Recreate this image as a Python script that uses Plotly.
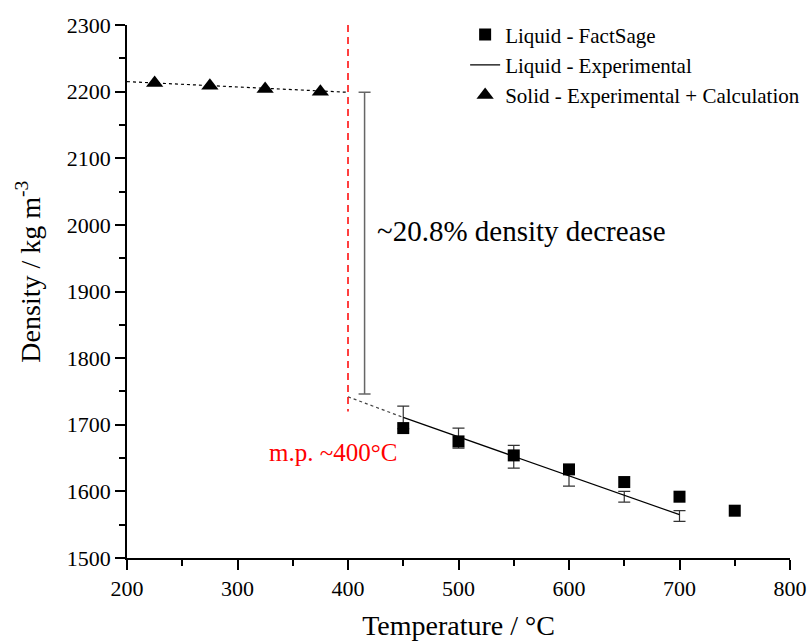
import plotly.graph_objects as go

# ---- data ----
fact_T = [450, 500, 550, 600, 650, 700, 750]
fact_rho = [1695, 1675, 1654, 1633, 1614, 1592, 1571]

exp_T = [450, 500, 550, 600, 650, 700]
exp_rho = [1711, 1680, 1652, 1623, 1592, 1563]
exp_err = [17, 15, 17, 15, 8, 8]

solid_T = [225, 275, 325, 375]
solid_rho = [2213, 2209, 2204, 2200]

solid_fit_T = [200, 400]
solid_fit_rho = [2215, 2199]

liq_extrap_T = [400, 450]
liq_extrap_rho = [1742, 1711]

liq_line_T = [450, 700]
liq_line_rho = [1711, 1565]

drop_T = [415]
drop_rho = [1972.5]
drop_err = [226.5]

mp_T = [400, 400]
mp_rho = [2300, 1720]

FONT = "Liberation Serif, serif"

fig = go.Figure()

# dotted fit lines
fig.add_trace(go.Scatter(x=solid_fit_T, y=solid_fit_rho, mode="lines",
                         line=dict(color="black", width=1.2, dash="dot"),
                         showlegend=False, hoverinfo="skip"))
fig.add_trace(go.Scatter(x=liq_extrap_T, y=liq_extrap_rho, mode="lines",
                         line=dict(color="#444444", width=1.2, dash="dot"),
                         showlegend=False, hoverinfo="skip"))
# melting point dashed line
fig.add_trace(go.Scatter(x=mp_T, y=mp_rho, mode="lines",
                         line=dict(color="red", width=1.5, dash="7px,5px"),
                         showlegend=False, hoverinfo="skip"))
# density drop bar
fig.add_trace(go.Scatter(x=drop_T, y=drop_rho, mode="markers",
                         marker=dict(size=1, color="rgba(0,0,0,0)"),
                         error_y=dict(type="data", array=drop_err, color="#666666",
                                      thickness=1.5, width=6),
                         showlegend=False, hoverinfo="skip"))
# experimental error bars
fig.add_trace(go.Scatter(x=exp_T, y=exp_rho, mode="markers",
                         marker=dict(size=1, color="rgba(0,0,0,0)"),
                         error_y=dict(type="data", array=exp_err, color="#333333",
                                      thickness=1.2, width=6),
                         showlegend=False, hoverinfo="skip"))

fig.add_trace(go.Scatter(x=fact_T, y=fact_rho, mode="markers", name="Liquid - FactSage",
                         marker=dict(symbol="square", size=12, color="black")))
fig.add_trace(go.Scatter(x=liq_line_T, y=liq_line_rho, mode="lines", name="Liquid - Experimental",
                         line=dict(color="black", width=1.2)))
fig.add_trace(go.Scatter(x=solid_T, y=solid_rho, mode="markers",
                         name="Solid - Experimental + Calculation",
                         marker=dict(symbol="triangle-up", size=15, color="black")))

fig.add_annotation(x=424, y=1991, xref="x", yref="y", xanchor="left", yanchor="middle",
                   text="~20.8% density decrease", showarrow=False,
                   font=dict(family=FONT, size=29, color="black"))
fig.add_annotation(x=386, y=1659, xref="x", yref="y", xanchor="center", yanchor="middle",
                   text="m.p. ~400°C", showarrow=False,
                   font=dict(family=FONT, size=25, color="red"))
# y axis title
fig.add_annotation(x=-0.148, y=0.537, xref="paper", yref="paper", xanchor="center",
                   yanchor="middle", textangle=-90, showarrow=False,
                   text="Density / kg m<sup>-3</sup>",
                   font=dict(family=FONT, size=28, color="black"))

axis_common = dict(showline=True, linecolor="black", linewidth=1.5, mirror=False,
                   showgrid=False, zeroline=False, ticks="outside", ticklen=10,
                   tickwidth=1.5, tickcolor="black", automargin=False,
                   ticklabeloverflow="allow",
                   tickfont=dict(family=FONT, size=22, color="black"))

fig.update_xaxes(range=[200, 800], dtick=100, tick0=200,
                 minor=dict(ticks="outside", dtick=50, ticklen=6, tickwidth=1.5, tickcolor="black"),
                 title=dict(text="Temperature / °C", font=dict(family=FONT, size=28, color="black"),
                            standoff=16),
                 **axis_common)
fig.update_yaxes(range=[1500, 2300], dtick=100, tick0=1500,
                 minor=dict(ticks="outside", dtick=50, ticklen=6, tickwidth=1.5, tickcolor="black"),
                 **axis_common)

fig.update_layout(
    width=807, height=641,
    margin=dict(l=127, r=17, t=25, b=83, autoexpand=False),
    plot_bgcolor="white", paper_bgcolor="white",
    font=dict(family=FONT, color="black"),
    legend=dict(x=0.51, y=1.02, xanchor="left", yanchor="top",
                bgcolor="rgba(0,0,0,0)", font=dict(family=FONT, size=21, color="black"),
                itemsizing="trace", tracegroupgap=0),
)

fig.write_html("out.html")
